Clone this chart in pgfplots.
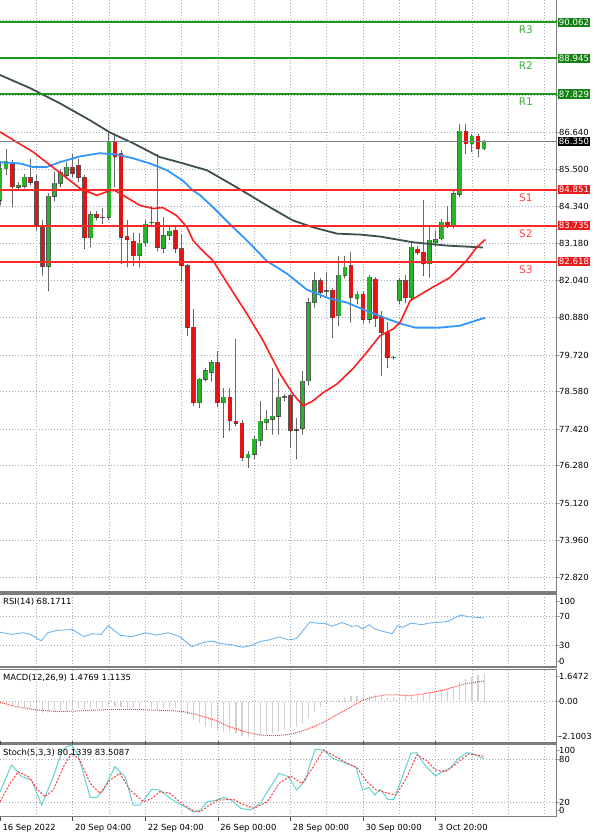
\documentclass[border=0pt]{standalone}
\usepackage{pgfplots}
\pgfplotsset{compat=1.18}
\usepackage{pgfplotstable}
\usepackage{fontspec}
\setmainfont{DejaVu Sans}

\definecolor{gridc}{RGB}{160,170,186}
\definecolor{framec}{RGB}{125,125,125}
\definecolor{bullc}{RGB}{40,180,40}
\definecolor{bearc}{RGB}{228,20,20}
\definecolor{wickc}{RGB}{105,105,105}
\definecolor{rlinec}{RGB}{30,150,30}
\definecolor{rboxc}{RGB}{20,130,20}
\definecolor{rtextc}{RGB}{60,175,60}
\definecolor{slinec}{RGB}{255,40,40}
\definecolor{sboxc}{RGB}{232,28,28}
\definecolor{stextc}{RGB}{255,70,70}
\definecolor{maone}{RGB}{255,30,30}
\definecolor{matwo}{RGB}{50,150,250}
\definecolor{mathree}{RGB}{60,80,76}
\definecolor{rsic}{RGB}{110,180,240}
\definecolor{stochc}{RGB}{100,210,205}
\definecolor{sigc}{RGB}{255,60,60}

% candles, 4h bars, index i
\pgfplotstableread{
i O H L C
0 84.52 85.75 84.37 85.51
1 85.50 86.13 85.30 85.75
3 84.93 85.08 84.85 84.98
4 84.96 85.35 84.90 85.25
8 82.48 84.75 81.72 84.65
9 84.65 85.40 84.50 85.06
10 85.04 85.50 84.95 85.40
11 85.30 85.72 85.20 85.56
15 83.36 84.20 83.07 84.08
17 84.00 84.30 83.80 84.00
18 84.00 86.65 83.90 86.37
23 82.81 83.50 82.45 83.19
24 83.20 83.90 83.10 83.79
25 83.83 84.36 83.70 83.85
27 83.03 84.00 82.90 83.43
28 83.43 83.70 83.30 83.57
33 78.24 79.00 78.08 78.97
34 78.97 79.30 78.90 79.23
35 79.18 79.55 78.90 79.48
37 78.24 78.70 77.15 78.40
41 76.53 76.74 76.22 76.63
42 76.63 77.20 76.50 77.10
43 77.06 78.29 76.90 77.66
44 77.62 78.00 77.40 77.72
45 77.72 79.33 77.25 77.82
46 77.82 79.00 77.25 78.40
47 78.40 78.50 78.30 78.42
50 77.44 79.23 77.25 78.91
51 78.91 81.50 78.80 81.35
52 81.35 82.29 81.20 82.03
54 81.70 82.29 81.55 81.72
56 80.94 82.81 80.63 82.19
57 82.19 82.81 82.10 82.45
59 81.46 81.70 81.30 81.61
61 80.83 82.20 80.70 82.13
65 79.64 79.70 79.58 79.66
66 81.41 82.10 81.30 82.03
68 81.50 83.22 81.45 83.07
71 82.55 83.69 82.13 83.28
72 83.20 83.60 83.10 83.30
73 83.33 83.95 83.28 83.85
75 83.74 84.88 83.65 84.73
76 84.71 86.91 84.62 86.68
78 86.29 86.60 86.03 86.52
80 86.13 86.40 86.08 86.34
}\bull

\pgfplotstableread{
i O H L C
2 85.66 85.77 84.31 84.94
5 85.23 85.82 85.00 85.09
6 85.11 85.30 83.60 83.74
7 83.74 83.90 82.19 82.48
12 85.56 85.98 85.25 85.35
13 85.61 85.80 85.10 85.23
14 85.23 85.30 83.02 83.36
16 84.10 84.20 83.90 84.00
19 86.37 86.60 84.94 85.87
20 85.97 86.10 82.55 83.38
21 83.40 83.90 82.45 83.30
22 83.25 83.50 82.50 82.81
26 83.85 85.97 82.95 83.07
29 83.59 83.75 82.90 83.02
30 83.02 83.48 82.03 82.50
31 82.50 82.55 80.32 80.58
32 80.58 81.15 78.14 78.24
36 79.48 79.85 78.10 78.24
38 78.41 78.70 77.36 77.67
39 77.67 80.21 77.50 77.60
40 77.60 77.70 76.44 76.53
48 78.45 78.50 76.84 77.36
49 77.40 77.77 76.50 77.38
53 82.03 82.10 81.50 81.67
55 81.74 81.80 80.26 80.87
58 82.50 82.91 80.73 81.51
60 81.61 81.70 80.70 80.83
62 82.08 82.15 80.60 80.85
63 80.90 81.10 79.07 80.42
64 80.42 80.73 79.33 79.64
67 82.03 82.20 81.35 81.50
69 83.00 83.10 82.85 82.90
70 82.91 84.52 82.18 82.55
74 83.85 84.36 83.68 83.71
77 86.68 86.91 85.97 86.29
79 86.52 86.60 85.87 86.13
}\bear

% moving averages
\pgfplotstableread{
i v
0 86.65
5.45 86.03
9.37 85.46
13.2 84.90
16.0 84.68
18.2 84.83
19.0 84.83
20.9 84.62
23.1 84.37
25.3 84.27
26.9 84.30
29.2 84.05
30.9 83.69
31.9 83.28
33.1 83.03
35.2 82.65
38.0 81.82
40.8 81.00
43.5 80.16
46.3 79.13
48.4 78.51
50.1 78.14
51.7 78.29
53.4 78.55
55.7 78.82
58.3 79.29
60.6 79.80
62.8 80.32
65.0 80.53
66.1 80.73
67.8 81.41
71.1 81.78
74.4 82.13
77.1 82.65
78.8 83.07
80.2 83.31
}\mafast

\pgfplotstableread{
i v
0 85.71
3.3 85.67
5.45 85.56
7.7 85.56
9.9 85.71
13.2 85.89
16.5 85.99
19.3 85.95
22.0 85.83
24.8 85.67
27.6 85.46
30.2 85.14
31.9 84.83
33.1 84.68
35.2 84.31
38.5 83.69
40.8 83.28
44.1 82.64
47.4 82.25
50.7 81.75
54.5 81.47
57.3 81.35
60.6 81.09
63.9 80.85
66.1 80.70
68.6 80.57
72.7 80.57
76.0 80.63
80.2 80.88
}\mamid

\pgfplotstableread{
i v
0 88.42
5.0 88.01
9.9 87.54
14.9 87.01
18.2 86.63
22.0 86.30
26.4 85.87
29.75 85.70
34.2 85.46
38.0 85.05
40.8 84.74
44.6 84.31
48.4 83.90
51.7 83.69
55.7 83.49
59.5 83.46
62.8 83.40
68.3 83.22
73.8 83.12
79.8 83.06
}\maslow

\pgfplotstableread{
i v
0 48.2
1.9 45
3.8 47.3
5.05 45
6.8 35.9
7.9 47.3
9.5 50.9
12 51.8
13.9 41.8
15.2 45.9
16.7 45
17.9 57.3
19.9 43.6
21.8 41.8
24 47.3
25.9 44.1
27.8 47.3
29.7 41.8
31.7 27.7
33.5 33.6
35.1 35.5
36.3 32.3
38.2 30.5
40.1 26.8
41.4 29.1
43 35
44.5 37.3
46.1 41.4
47.7 37.3
49 39.1
51.2 62.3
52.4 60.9
54 60
54.8 56.4
56.5 61.8
58.1 56.4
59.1 57.3
59.9 52.7
61 58.6
61.9 52.7
63.2 49.5
64.8 45.9
65.7 57.3
66.6 55
67.9 60.9
69.8 58.6
70.8 60.9
72.3 61.8
73.9 63.2
76.1 72.3
77.4 70
78.7 69.1
80 68.17
}\rsi

\pgfplotstableread{
i v
0 -0.09
1 -0.14
2 -0.21
3 -0.27
4 -0.32
5 -0.36
6 -0.53
7 -0.62
8 -0.53
9 -0.50
10 -0.48
11 -0.45
12 -0.39
13 -0.36
14 -0.39
15 -0.36
16 -0.32
17 -0.27
18 -0.18
19 -0.21
20 -0.27
21 -0.32
22 -0.30
23 -0.32
24 -0.36
25 -0.36
26 -0.39
27 -0.32
28 -0.32
29 -0.36
30 -0.50
31 -0.71
32 -0.98
33 -1.16
34 -1.28
35 -1.39
36 -1.52
37 -1.61
38 -1.70
39 -1.70
40 -1.82
41 -1.87
42 -1.82
43 -1.79
44 -1.75
45 -1.70
46 -1.61
47 -1.52
48 -1.43
49 -1.34
50 -1.21
51 -0.89
52 -0.53
53 -0.27
54 -0.09
55 0.04
56 0.18
57 0.27
58 0.32
59 0.32
60 0.36
61 0.32
62 0.36
63 0.32
64 0.27
65 0.23
66 0.27
67 0.32
68 0.32
69 0.36
70 0.40
71 0.45
72 0.54
73 0.63
74 0.68
75 0.81
76 1.04
77 1.22
78 1.34
79 1.43
80 1.48
}\macdh

\pgfplotstableread{
i v
0 -0.03
1.9 -0.21
3.8 -0.32
6.3 -0.45
9.5 -0.53
12.6 -0.50
15.8 -0.45
19.0 -0.41
22.1 -0.41
25.3 -0.45
28.4 -0.48
30.3 -0.53
32.8 -0.71
35.4 -0.98
37.9 -1.34
40.4 -1.61
43.0 -1.79
45.5 -1.82
48.0 -1.75
50.5 -1.52
53.1 -1.16
55.6 -0.71
58.1 -0.27
60.0 0.09
61.9 0.27
63.8 0.36
65.7 0.36
67.6 0.32
69.5 0.40
71.4 0.50
73.3 0.63
75.2 0.81
77.1 0.97
80 1.11
}\macds

\pgfplotstableread{
i v
0 34.4
1.9 71.6
3.6 55.3
5.2 50.7
6.9 15.8
8.8 55.3
10.2 90.2
11.0 97.2
11.85 99.5
12.9 85.6
14.9 26.6
16.0 26.6
17.1 36.7
19.0 69.3
20.7 55.3
22.0 15.8
23.1 15.8
25.1 37.7
26.4 36.7
28.1 25.1
30.3 14.4
32.0 6.5
33.1 8.8
34.3 20.5
35.4 21.9
37.0 26.5
38.2 22.8
39.8 11.2
41.4 8.8
43.0 18.1
44.2 34.4
46.1 60
47.7 55.3
49.0 36.7
50.5 50.7
51.2 71.6
52.1 93.5
53.4 92.5
55.0 80.9
56.9 74.9
58.8 69.3
59.9 36.7
61.0 40.5
61.9 29.8
62.9 37.7
64.1 23.7
65.1 23.7
66.3 50.7
67.9 87.9
68.9 88.8
70.4 69.3
72.0 56.3
73.3 63.7
74.2 65.6
75.8 80.9
77.1 88.8
78.0 87.9
80.0 80.13
}\stochk

\pgfplotstableread{
i v
0 20.4
1.65 46.1
3.0 62.3
4.7 55.3
6.3 36.7
7.4 27.4
8.8 36.7
10.5 69.3
11.85 88
13.2 78.6
14.9 46.1
16.5 32.1
18.2 50.7
19.8 60
21.5 36.7
23.7 20.4
25.1 25.1
26.4 34.4
28.1 32.1
30.0 18.1
32.0 7.7
33.1 6.3
34.5 15
36.0 22.8
38.5 23.7
40.4 15.8
42.0 11.2
44.2 20.5
46.1 46
48.0 56.3
49.9 46
51.8 69.3
53.4 92.5
55.0 85.6
57.2 74.9
59.1 67
60.6 48.4
62.2 36.7
63.8 33
65.4 29.8
67.0 50.7
68.9 85.6
70.4 78.6
72.0 64.6
73.6 62.3
75.5 74
77.4 87
79.0 85.6
80.0 83.51
}\stochd

\pgfplotsset{
  panel/.style={
    scale only axis, width=556.7pt, xmin=0, xmax=92,
    axis x line*=box, axis y line*=right,
    axis line style={framec, line width=1.3pt},
    xtick={6,12,...,90}, xticklabels={}, xmajorgrids,
    major x tick style={draw=none},
    grid style={gridc, dash pattern=on 1pt off 2pt, line width=0.6pt},
    tick align=outside, major tick length=3pt,
    major y tick style={gridc, line width=0.6pt},
    yticklabel style={xshift=-4pt},
    every tick label/.append style={font=\fontsize{8.4}{10}\selectfont, text=black},
    clip=false,
  },
  wicks/.style={only marks, mark=*, mark size=0.01pt, mark options={draw=none, fill=none}, forget plot,
    error bars/.cd, y dir=plus, y explicit, error mark=none,
    error bar style={draw=wickc, line width=1pt}},
  bodies/.style={only marks, mark=*, mark size=0.01pt, mark options={draw=none, fill=none}, forget plot,
    error bars/.cd, y dir=plus, y explicit, error mark=none,
    error bar style={draw=#1}},
}
\tikzset{
  pbox/.style={anchor=west, fill=#1, text=white, inner sep=1.3pt, xshift=0.8pt,
    font=\fontsize{8.6}{10}\selectfont},
  lvl/.style={anchor=north, inner sep=0pt, yshift=-3.5pt, text=#1,
    font=\fontsize{10.5}{12}\selectfont},
  ptitle/.style={anchor=north west, inner sep=0pt, xshift=3pt, yshift=-4pt,
    font=\fontsize{8.4}{10}\selectfont},
}

\begin{document}
\begin{tikzpicture}
\useasboundingbox (0pt,0pt) rectangle (600pt,-836pt);

% price window
\begin{axis}[panel, at={(0pt,3pt)}, anchor=north west, height=595pt,
  ymin=72.355, ymax=90.843,
  ytick={72.82,73.96,75.12,76.28,77.42,78.58,79.72,80.88,82.04,83.18,84.34,85.50,86.64,87.80,88.96,90.12},
  yticklabels={72.820,73.960,75.120,76.280,77.420,78.580,79.720,80.880,82.040,83.180,84.340,85.500,86.640,,,},
  ymajorgrids]
\addplot[wicks] table[x=i, y=L, y error plus expr=\thisrow{H}-\thisrow{L}] {\bull};
\addplot[wicks] table[x=i, y=L, y error plus expr=\thisrow{H}-\thisrow{L}] {\bear};
\addplot[bodies={black!65, line width=4.8pt}] table[x=i, y expr=\thisrow{O}-0.0124, y error plus expr=\thisrow{C}-\thisrow{O}+0.0248] {\bull};
\addplot[bodies={black!65, line width=4.8pt}] table[x=i, y expr=\thisrow{C}-0.0124, y error plus expr=\thisrow{O}-\thisrow{C}+0.0248] {\bear};
\addplot[bodies={bullc, line width=3.6pt}] table[x=i, y=O, y error plus expr=\thisrow{C}-\thisrow{O}] {\bull};
\addplot[bodies={bearc, line width=3.6pt}] table[x=i, y=C, y error plus expr=\thisrow{O}-\thisrow{C}] {\bear};

\addplot[mathree, line width=1.8pt] table[x=i, y=v] {\maslow};
\addplot[matwo, line width=1.8pt] table[x=i, y=v] {\mamid};
\addplot[maone, line width=1.6pt] table[x=i, y=v] {\mafast};

\addplot[gridc!75!black, line width=0.6pt] coordinates {(0,86.35) (92,86.35)};
\addplot[rlinec, line width=1.8pt] coordinates {(0,90.062) (92,90.062)};
\addplot[rlinec, line width=1.8pt] coordinates {(0,88.945) (92,88.945)};
\addplot[rlinec, line width=1.8pt] coordinates {(0,87.829) (92,87.829)};
\addplot[slinec, line width=1.8pt] coordinates {(0,84.851) (92,84.851)};
\addplot[slinec, line width=1.8pt] coordinates {(0,83.735) (92,83.735)};
\addplot[slinec, line width=1.8pt] coordinates {(0,82.618) (92,82.618)};

\node[lvl=rtextc] at (axis cs:86.9,90.062) {R3};
\node[lvl=rtextc] at (axis cs:86.9,88.945) {R2};
\node[lvl=rtextc] at (axis cs:86.9,87.829) {R1};
\node[lvl=stextc] at (axis cs:86.9,84.851) {S1};
\node[lvl=stextc] at (axis cs:86.9,83.735) {S2};
\node[lvl=stextc] at (axis cs:86.9,82.618) {S3};

\node[pbox=rboxc] at (axis cs:92,90.062) {90.062};
\node[pbox=rboxc] at (axis cs:92,88.945) {88.945};
\node[pbox=rboxc] at (axis cs:92,87.829) {87.829};
\node[pbox=black] at (axis cs:92,86.35) {86.350};
\node[pbox=sboxc] at (axis cs:92,84.851) {84.851};
\node[pbox=sboxc] at (axis cs:92,83.735) {83.735};
\node[pbox=sboxc] at (axis cs:92,82.618) {82.618};
\end{axis}

% RSI window
\begin{axis}[panel, at={(0pt,-594pt)}, anchor=north west, height=73pt,
  ymin=-1, ymax=102, ytick={30,70}, yticklabels={30,70}, ymajorgrids,
  extra y ticks={7.5,92.1}, extra y tick labels={0,100}, extra y tick style={grid=none}]
\addplot[rsic, line width=0.9pt] table[x=i, y=v] {\rsi};
\node[ptitle] at (rel axis cs:0,1) {RSI(14) 68.1711};
\end{axis}

% MACD window
\begin{axis}[panel, at={(0pt,-669.5pt)}, anchor=north west, height=73.5pt,
  ymin=-2.2145, ymax=1.7265, ytick={0}, yticklabels={0.00}, ymajorgrids,
  extra y ticks={1.378,-1.877}, extra y tick labels={1.6472,-2.1003}, extra y tick style={grid=none}]
\addplot[ycomb, mark=none, black!18, line width=1.1pt] table[x=i, y=v] {\macdh};
\addplot[sigc, line width=1pt, dash pattern=on 1pt off 1pt] table[x=i, y=v] {\macds};
\node[ptitle] at (rel axis cs:0,1) {MACD(12,26,9) 1.4769 1.1135};
\end{axis}

% Stochastic window
\begin{axis}[panel, at={(0pt,-744.5pt)}, anchor=north west, height=72pt,
  ymin=-0.2, ymax=100.2, ytick={20,80}, yticklabels={20,80}, ymajorgrids,
  extra y ticks={7.9,91.5}, extra y tick labels={0,100}, extra y tick style={grid=none},
  extra x ticks={0,12,24,36,48,60,72},
  extra x tick labels={16 Sep 2022,20 Sep 04:00,22 Sep 04:00,26 Sep 00:00,28 Sep 00:00,30 Sep 00:00,3 Oct 20:00},
  extra x tick style={grid=none, major x tick style={draw=black!70, line width=0.6pt},
    major tick length=4pt,
    xticklabel style={anchor=north west, xshift=-1pt}}]
\addplot[stochc, line width=1pt] table[x=i, y=v] {\stochk};
\addplot[sigc, line width=1pt, dash pattern=on 2pt off 1.5pt] table[x=i, y=v] {\stochd};
\node[ptitle] at (rel axis cs:0,1) {Stoch(5,3,3) 80.1339 83.5087};
\end{axis}
\end{tikzpicture}
\end{document}
